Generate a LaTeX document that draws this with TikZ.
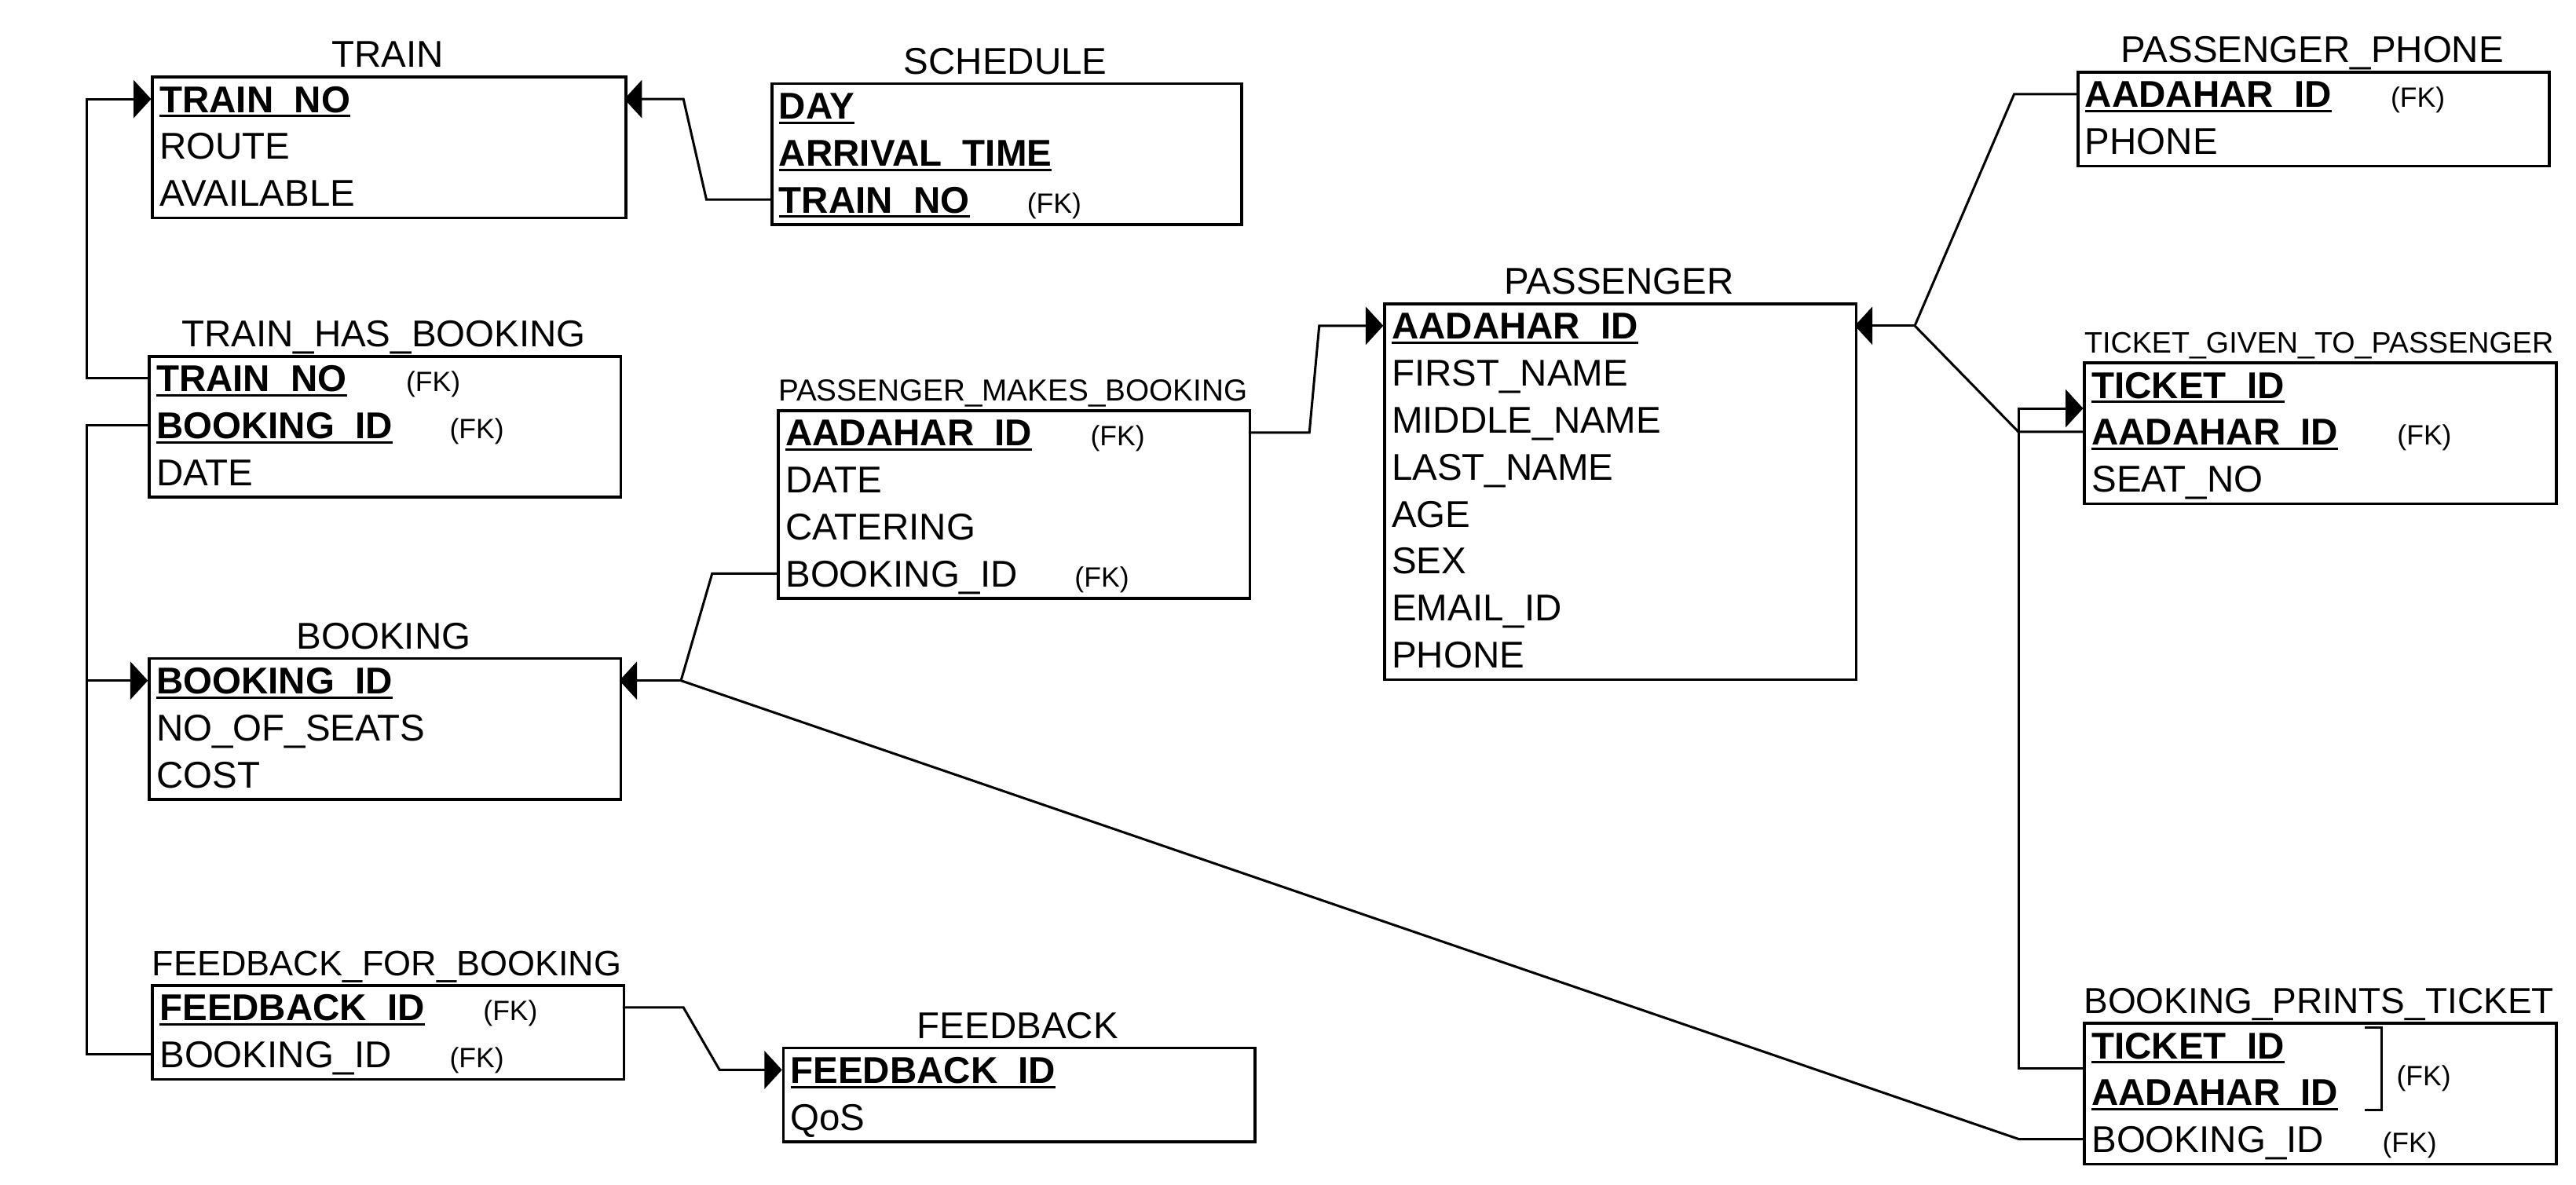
\documentclass[tikz,border=0pt]{standalone}
\usepackage{fontspec}
\setmainfont{Liberation Sans}
\usetikzlibrary{arrows.meta,calc}
\newcommand\pk[1]{{\bfseries\setbox0\hbox{#1}\rlap{\rule[-3pt]{\wd0}{1.4pt}}\box0}}
\tikzset{
  box/.style={draw, line width=1.75pt, inner sep=0pt, anchor=north west},
  ttl/.style={anchor=base, inner sep=0pt, font=\fontsize{22.7}{27}\selectfont},
  fld/.style={anchor=base west, inner sep=0pt, font=\fontsize{22.7}{27}\selectfont},
  fkl/.style={anchor=base west, inner sep=0pt, font=\fontsize{17}{20}\selectfont},
  conn/.style={line width=1.45pt},
  arr/.style={-{Triangle[length=10.7pt,width=23pt]}},
}
% #1 name, #2 x, #3 y (top), #4 width, #5 rows, #6 title
\newcommand\ent[6]{%
  \node[box, minimum width=#4pt, minimum height=#5*28.6pt] (#1) at (#2,#3) {};
  \node[ttl] (#1-t) at ({#2+#4/2},{#3-5}) {#6};
  \foreach \i in {1,...,#5} {
    \coordinate (#1-l\i) at (#2,{#3+14.3+28.6*(\i-1)});
    \coordinate (#1-r\i) at ({#2+#4},{#3+14.3+28.6*(\i-1)});
    \coordinate (#1-m\i) at (#2,{#3+28.6*\i});
  }
}
\newcommand\frow[3]{\node[fld] (#1-f#2) at ($(#1-l#2)+(5,8.1)$) {#3};}
\newcommand\fkmark[3]{\node[fkl] (#1-k#2) at ($(#1-l#2)+(#3,8.1)$) {(FK)};}
\begin{document}
\begin{tikzpicture}[x=1pt,y=-1pt]
\fill[white] (0,0) rectangle (1568,721);
\useasboundingbox (0,0) rectangle (1568,721);

\ent{train}{92}{46}{288}{3}{TRAIN}
\frow{train}{1}{\pk{TRAIN\_NO}}
\frow{train}{2}{ROUTE}
\frow{train}{3}{AVAILABLE}

\ent{sch}{469}{50}{286}{3}{SCHEDULE}
\frow{sch}{1}{\pk{DAY}}
\frow{sch}{2}{\pk{ARRIVAL\_TIME}}
\frow{sch}{3}{\pk{TRAIN\_NO}}
\fkmark{sch}{3}{156}

\ent{thb}{90}{216}{287}{3}{TRAIN\_HAS\_BOOKING}
\frow{thb}{1}{\pk{TRAIN\_NO}}
\fkmark{thb}{1}{157}
\frow{thb}{2}{\pk{BOOKING\_ID}}
\fkmark{thb}{2}{183.5}
\frow{thb}{3}{DATE}

\ent{pmb}{473}{249}{287}{4}{{\fontsize{18.5}{22}\selectfont PASSENGER\_MAKES\_BOOKING}}
\frow{pmb}{1}{\pk{AADAHAR\_ID}}
\fkmark{pmb}{1}{190.6}
\frow{pmb}{2}{DATE}
\frow{pmb}{3}{CATERING}
\frow{pmb}{4}{BOOKING\_ID}
\fkmark{pmb}{4}{181}

\ent{bk}{90}{400}{287}{3}{BOOKING}
\frow{bk}{1}{\pk{BOOKING\_ID}}
\frow{bk}{2}{NO\_OF\_SEATS}
\frow{bk}{3}{COST}

\ent{ffb}{92}{599}{287}{2}{{\fontsize{21.5}{25}\selectfont FEEDBACK\_FOR\_BOOKING}}
\frow{ffb}{1}{\pk{FEEDBACK\_ID}}
\fkmark{ffb}{1}{202}
\frow{ffb}{2}{BOOKING\_ID}
\fkmark{ffb}{2}{181.5}

\ent{fb}{476}{637}{287}{2}{FEEDBACK}
\frow{fb}{1}{\pk{FEEDBACK\_ID}}
\frow{fb}{2}{QoS}

\ent{pas}{842}{184}{287}{8}{PASSENGER}
\frow{pas}{1}{\pk{AADAHAR\_ID}}
\frow{pas}{2}{FIRST\_NAME}
\frow{pas}{3}{MIDDLE\_NAME}
\frow{pas}{4}{LAST\_NAME}
\frow{pas}{5}{AGE}
\frow{pas}{6}{SEX}
\frow{pas}{7}{EMAIL\_ID}
\frow{pas}{8}{PHONE}

\ent{pp}{1264}{43}{287}{2}{PASSENGER\_PHONE}
\frow{pp}{1}{\pk{AADAHAR\_ID}}
\fkmark{pp}{1}{191}
\frow{pp}{2}{PHONE}

\ent{tg}{1268}{220}{287}{3}{{\fontsize{18}{22}\selectfont TICKET\_GIVEN\_TO\_PASSENGER}}
\frow{tg}{1}{\pk{TICKET\_ID}}
\frow{tg}{2}{\pk{AADAHAR\_ID}}
\fkmark{tg}{2}{191}
\frow{tg}{3}{SEAT\_NO}

\ent{bpt}{1268}{622}{287}{3}{{\fontsize{22}{26}\selectfont BOOKING\_PRINTS\_TICKET}}
\frow{bpt}{1}{\pk{TICKET\_ID}}
\frow{bpt}{2}{\pk{AADAHAR\_ID}}
\frow{bpt}{3}{BOOKING\_ID}
\fkmark{bpt}{3}{182}
\draw[conn] (1439.4,625.5) -- (1449.5,625.5) -- (1449.5,675.6) -- (1439.4,675.6);
\node[fkl] (bpt-kb) at (1458.6,661) {(FK)};

% connectors
\draw[conn,arr] (thb-l1) -- ++(-37.4,0) |- (train-l1);
\draw[conn,arr] (sch-l3) -- ++(-39,0) -- ([xshift=36pt]train-r1) -- (train-r1);
\draw[conn,arr] (thb-l2) -- ++(-37.4,0) |- (bk-l1);
\draw[conn] (ffb-l2) -| ([xshift=-37.4pt]bk-l1);
\coordinate (j1) at ([xshift=37.5pt]bk-r1);
\draw[conn,arr] (j1) -- (bk-r1);
\draw[conn] (pmb-l4) -- ++(-39.5,0) -- (j1);
\draw[conn] (bpt-l3) -- ++(-39,0) -- (j1);
\draw[conn,arr] (pmb-r1) -- ++(37,0) -- ([xshift=-39pt]pas-l1) -- (pas-l1);
\coordinate (j2) at ([xshift=36.5pt]pas-r1);
\draw[conn,arr] (j2) -- (pas-r1);
\draw[conn] (j2) -- ([xshift=-38pt]pp-l1) -- (pp-l1);
\draw[conn] (j2) -- ([xshift=-39.4pt]tg-l2) -- (tg-l2);
\draw[conn,arr] (bpt-m1) -- ++(-39,0) |- (tg-m1);
\draw[conn,arr] (ffb-r1) -- ++(37,0) -- ([xshift=-38pt]fb-l1) -- (fb-l1);
\end{tikzpicture}
\end{document}
